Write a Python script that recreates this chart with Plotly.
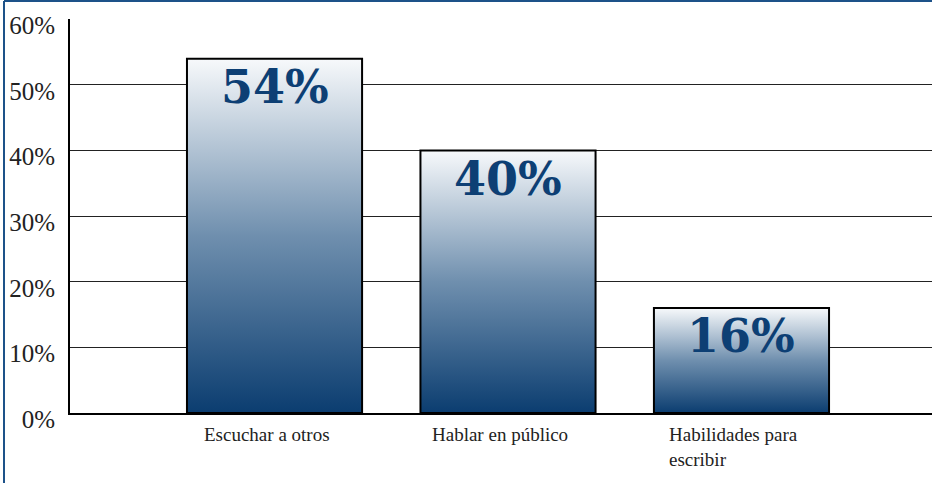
import plotly.graph_objects as go

categories = ["Escuchar a otros", "Hablar en público", "Habilidades para<br>escribir"]
values = [54, 40, 16]
value_labels = ["54%", "40%", "16%"]
y_ticks = [0, 10, 20, 30, 40, 50, 60]
y_tick_labels = ["0%", "10%", "20%", "30%", "40%", "50%", "60%"]

BAR_W = 0.75
DARK = "#0b3d70"
TEXT_BLUE = "#0d3f74"
SERIF = "Liberation Serif"

fig = go.Figure()
for i, v in enumerate(values):
    x0, x1 = i - BAR_W / 2, i + BAR_W / 2
    fig.add_trace(go.Scatter(
        x=[x0, x1, x1, x0, x0],
        y=[0, 0, v, v, 0],
        mode="lines",
        fill="toself",
        fillgradient=dict(type="vertical",
                          colorscale=[[0, DARK], [0.5, "#6f8fae"], [1, "#f7f9fb"]]),
        line=dict(color="black", width=2),
        hoverinfo="skip",
        showlegend=False,
    ))
    fig.add_annotation(x=i, y=v, text=value_labels[i], showarrow=False,
                       yanchor="top", yshift=1,
                       font=dict(family="DejaVu Serif", size=46, color=TEXT_BLUE, weight="bold"))
    fig.add_annotation(x=i, y=0, yref="y", text=categories[i], showarrow=False,
                       yanchor="top", xanchor="center", align="left", xshift=-8, yshift=-9,
                       font=dict(family=SERIF, size=19, color="#222"))

fig.update_layout(
    width=932, height=483,
    margin=dict(l=70, r=0, t=19, b=70),
    paper_bgcolor="white", plot_bgcolor="white",
    showlegend=False,
    xaxis=dict(range=[-0.876, 2.816], showgrid=False, zeroline=False,
               showticklabels=False, ticks="", showline=True,
               linecolor="black", linewidth=2, fixedrange=True),
    yaxis=dict(range=[0, 60.05], tickvals=y_ticks, ticktext=y_tick_labels,
               showgrid=True, gridcolor="#222", gridwidth=1, zeroline=False,
               showline=True, linecolor="black", linewidth=2, ticks="",
               ticklabelstandoff=8, ticklabelshift=6, fixedrange=True,
               tickfont=dict(family=SERIF, size=25, color="#222")),
)

# blue frame (top and left)
fig.add_shape(type="line", xref="paper", yref="paper",
              x0=-66 / 862, x1=1.01, y0=1 + 18 / 394, y1=1 + 18 / 394,
              line=dict(color="#1d5289", width=2))
fig.add_shape(type="line", xref="paper", yref="paper",
              x0=-66 / 862, x1=-66 / 862, y0=-0.2, y1=1 + 18 / 394,
              line=dict(color="#1d5289", width=2))

fig.write_html("out.html", config={"displayModeBar": False},
               post_script="document.body.style.margin='0';")
